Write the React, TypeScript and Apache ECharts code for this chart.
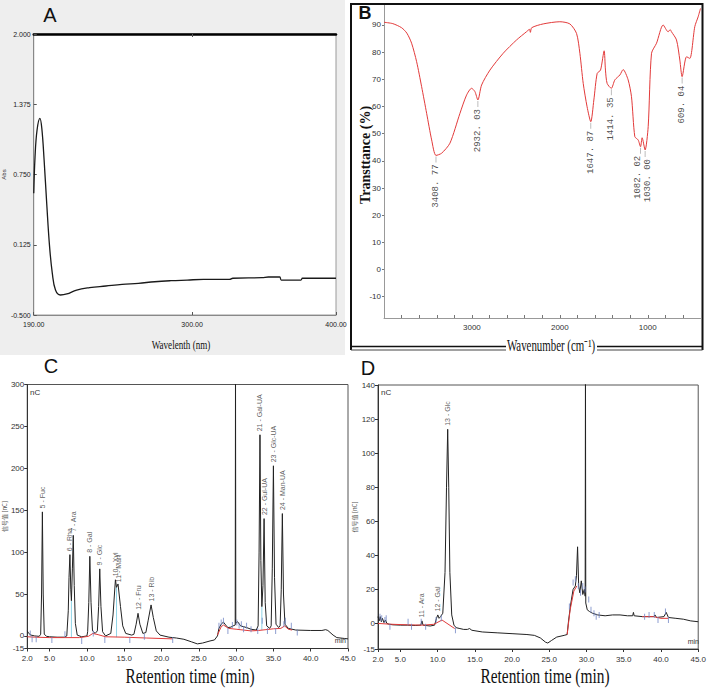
import { useEffect, useRef } from "react";
import * as echarts from "echarts";

// ---------- Panel A : UV spectrum ----------
const uvWavelength = [190, 190.9, 192.3, 194.3, 195.6, 197.2, 199, 201, 202.9, 205.1, 208.5, 213, 219.8, 228.8, 240.1, 251.4, 262.7, 274, 285.3, 296.6, 307.9, 326, 328.3, 348.6, 353, 360.9, 362, 375.6, 376.7, 400];
const uvAbs = [0.583, 0.908, 1.146, 1.25, 1.161, 0.879, 0.494, 0.108, -0.129, -0.278, -0.322, -0.313, -0.278, -0.257, -0.242, -0.227, -0.218, -0.204, -0.195, -0.189, -0.183, -0.183, -0.173, -0.168, -0.162, -0.162, -0.189, -0.189, -0.173, -0.173];
const uvYTicks = [-0.5, 0.125, 0.75, 1.375, 2.0];
const uvXTicks = [190, 300, 400];

// ---------- Panel B : FT-IR spectrum ----------
const irWavenumber = [4000, 3900, 3800, 3740, 3686, 3629, 3572, 3515, 3458, 3408.77, 3345, 3250, 3136, 3061, 3004, 2966, 2932.03, 2890, 2795, 2644, 2492, 2380, 2345, 2335, 2320, 2189, 2000, 1886, 1810, 1772, 1734, 1690, 1647.87, 1613, 1575, 1537, 1496, 1481, 1462, 1414.35, 1374, 1317, 1280, 1223, 1185, 1147, 1109, 1082.02, 1064, 1030, 995, 957, 900, 825, 768, 745, 730, 673, 635, 609.04, 559, 521, 465, 427, 400];
const irTransmittance = [91, 90.5, 89, 87, 83.3, 76.5, 67.3, 57.5, 47.7, 42, 42.8, 46.5, 57.5, 64.2, 66.7, 65.5, 62.4, 67.9, 73.4, 79.6, 84.5, 87.5, 88.4, 87.3, 89, 90.4, 91.2, 90.4, 86.9, 79.6, 68.5, 59.9, 54.4, 62.4, 72.2, 73.4, 80.5, 73.4, 68.5, 66.7, 69.8, 71.6, 73.6, 69.8, 63.6, 48.9, 47.7, 45.2, 48.5, 44, 52.6, 79.6, 83.3, 90, 87.5, 88.3, 87.5, 84.5, 77.1, 71, 78.3, 77.7, 89.4, 93, 96.1];
const irPeakWavenumber = [3408.77, 2932.03, 1647.87, 1414.35, 1082.02, 1030.0, 609.04];
const irPeakTransmittance = [42.0, 62.4, 54.4, 66.7, 45.2, 44.0, 71.0];
const irYTicks = [-10, 0, 10, 20, 30, 40, 50, 60, 70, 80, 90];
const irXTicks = [1000, 2000, 3000];
const irXMinorTicks = [600, 800, 1000, 1200, 1400, 1600, 1800, 2000, 2200, 2400, 2600, 2800, 3000, 3200, 3400, 3600, 3800];

// ---------- Panel C : standards chromatogram ----------
const cTime = [2.0, 2.2, 2.5, 3.0, 3.6, 3.8, 3.92, 4.03, 4.14, 4.28, 4.6, 5.0, 6.0, 7.0, 7.3, 7.5, 7.6, 7.72, 7.84, 7.92, 8.05, 8.17, 8.3, 8.45, 8.7, 9.3, 10.0, 10.1, 10.25, 10.39, 10.55, 10.75, 11.1, 11.4, 11.57, 11.72, 11.88, 12.1, 12.5, 13.2, 13.5, 13.82, 13.97, 14.17, 14.5, 14.8, 15.2, 16.0, 16.3, 16.6, 16.85, 17.1, 17.5, 17.9, 18.2, 18.6, 18.9, 19.3, 19.8, 21.0, 22.0, 23.0, 24.0, 24.8, 25.5, 26.5, 27.1, 27.5, 27.7, 28.0, 28.3, 28.6, 28.9, 29.3, 29.6, 29.88, 29.92, 29.96, 30.2, 30.6, 31.4, 32.0, 32.7, 32.95, 33.08, 33.2, 33.32, 33.45, 33.6, 33.75, 33.9, 34.1, 34.5, 34.7, 34.85, 35.0, 35.15, 35.35, 35.7, 35.9, 36.05, 36.2, 36.35, 36.55, 37.0, 38.0, 40.0, 41.5, 42.0, 42.3, 43.0, 43.5, 44.5, 45.0];
const cSignal = [6, 3, 1, 0, -0.5, 2, 50, 148, 50, 2, -0.5, -1, -1.5, -1.5, 0, 30, 70, 97, 55, 42, 80, 120, 60, 15, 1, -1, 0, 5, 40, 95, 40, 6, 3, 6, 35, 80, 35, 5, 0, 3, 25, 67, 58, 62, 35, 12, 3, 1, 2, 14, 27, 14, 3, 4, 18, 37, 22, 6, 1, -1.5, -2.5, -4, -7, -9.5, -8.5, -6, -4.8, 0, 9, 14, 16.5, 13, 10, 10.5, 12, 13, 320, 15, 17, 12, 10, 8, 7, 12, 100, 240, 90, 35, 60, 140, 40, 12, 9, 12, 80, 203, 70, 14, 10, 12, 55, 146, 50, 14, 9, 7, 6.5, 6.5, 7.5, 6.5, 1, -2, -3, -3.5];
const cBaseTime = [2.0, 3.0, 5.0, 7.0, 9.0, 10.2, 10.8, 11.5, 12.5, 15.0, 18.0, 21.5, 21.5, 27.5, 28.0, 28.3, 29.0, 30.0, 31.0, 32.0, 33.0, 34.0, 35.0, 36.0, 36.5, 37.0, 37.5];
const cBaseSignal = [-1, -1.5, -2, -2, -2, -0.5, 3, 1.5, -1, -1.5, -2.5, -3.5, null, 1, 11, 13, 9, 8, 7, 6, 6.5, 7.5, 8.5, 9, 12, 8, 7];
const cDropTime = [7.92, 13.97, 33.45];
const cDropBase = [-1.5, -1.5, 7];
const cDropTop = [42, 58, 35];
const cTickTime = [2.4, 2.65, 3.2, 5.3, 7.05, 9.3, 10.85, 12.4, 15.75, 17.7, 21.5, 27.7, 28.0, 28.3, 28.9, 29.5, 30.1, 30.4, 30.7, 31.0, 31.4, 32.0, 32.9, 33.5, 34.2, 35.3, 36.4, 36.6, 37.4, 38.2];
const cTickSignal = [3, -4, -4, -5, 2, -6, 3, -5, -5, -1, -5, 12, 16, 18, 6, 13, 16, 12, 14, 8, 12, 8, 6, 18, 6, 6, 14, 18, 12, 4];
const cPeakTime = [4.03, 7.72, 8.17, 10.39, 11.72, 13.82, 14.17, 16.85, 18.6, 33.2, 33.75, 35.0, 36.2];
const cPeakHeight = [148, 97, 120, 95, 80, 67, 60, 27, 37, 240, 140, 203, 146];
const cPeakName = ["5 - Fuc", "6 - Rha", "7 - Ara", "8 - Gal", "9 - Glc", "10 - Xyl", "11 - Man", "12 - Fru", "13 - Rib", "21 - Gal-UA", "22 - Gul-UA", "23 - Glc-UA", "24 - Man-UA"];
const cYTicks = [-15, 0, 50, 100, 150, 200, 250, 300];

// ---------- Panel D : sample chromatogram ----------
const dTime = [2.0, 2.15, 2.3, 2.45, 2.6, 2.8, 3.0, 3.2, 3.5, 4.0, 5.0, 6.0, 7.0, 7.75, 7.9, 8.05, 9.0, 9.6, 9.85, 10.03, 10.2, 10.4, 10.7, 11.0, 11.2, 11.36, 11.5, 11.65, 11.9, 12.2, 12.5, 13.0, 13.5, 14.0, 14.3, 14.6, 16.0, 18.0, 20.0, 22.0, 23.0, 23.8, 24.5, 24.8, 25.3, 26.0, 27.0, 27.4, 27.6, 27.9, 28.2, 28.5, 28.65, 28.8, 28.95, 29.1, 29.3, 29.5, 29.7, 29.82, 29.86, 29.9, 30.1, 30.4, 30.8, 31.5, 32.5, 33.5, 34.5, 35.5, 36.2, 36.3, 36.4, 37.5, 39.0, 39.2, 39.4, 40.4, 40.7, 41.0, 42.0, 43.0, 44.0, 45.0];
const dSignal = [4, 1.5, 4, 1, 3, 0.5, 2, 0, -0.5, -0.8, -1, -1, -1.2, -1, 1.5, -1, -1.5, -1, 3, 5, 3, 4, 6, 30, 80, 114, 80, 30, 5, -1, -2.5, -3, -3.5, -3.5, -3, -4, -5, -5.5, -6, -6.5, -7, -8.5, -11, -11.5, -10, -8, -7, -6.5, 2, 12, 20, 22, 28, 45, 22, 18, 25, 17, 20, 16, 150, 12, 8, 7, 6, 5, 4.5, 5, 5, 4.5, 4.5, 6.5, 4.5, 4, 4, 5, 3.5, 4, 6.5, 3.5, 3, 2.5, 1.5, 1];
const dBaseTime = [2.0, 4.0, 6.0, 8.0, 9.5, 10.6, 12.3, 12.3, 27.4, 27.8, 28.3, 28.7, 28.7, 37.5, 39.0, 40.0, 41.0];
const dBaseSignal = [0, -0.5, -0.8, -1, -0.5, 2, -3, null, -6.5, 8, 19, 22, null, 4, 4, 3, 3];
const dTickTime = [2.27, 2.5, 2.93, 3.1, 3.6, 6.04, 6.5, 7.8, 8.4, 9.8, 10.5, 12.4, 27.7, 28.2, 28.5, 28.9, 29.2, 29.5, 29.8, 30.3, 30.6, 31.0, 31.3, 31.7, 37.8, 38.4, 39.1, 39.6, 40.6, 41.0];
const dTickSignal = [4, 3, 2, 3, -2, 1, -2, 1, -2, 2, 3, -4, 10, 24, 26, 22, 18, 22, 20, 14, 8, 6, 4, 5, 4, 5, 5, 2, 7, 2];
const dPeakTime = [7.9, 10.03, 11.36];
const dPeakHeight = [1.5, 5, 114];
const dPeakName = ["11 - Ara", "12 - Gal", "13 - Glc"];
const dYTicks = [-15, 0, 20, 40, 60, 80, 100, 120, 140];

const rtXTicks = [2, 5, 10, 15, 20, 25, 30, 35, 40, 45];

const NARROW = "'Liberation Sans Narrow', 'Liberation Sans', Arial, sans-serif";
const SANS = "'Liberation Sans', Arial, sans-serif";
const SERIF = "'Liberation Serif', 'Times New Roman', serif";
const MONO = "'Liberation Mono', 'DejaVu Sans Mono', monospace";

const zip = (xs: number[], ys: (number | null)[]) => xs.map((x, i) => [x, ys[i] === null ? "-" : ys[i]]);

function drops(ts: number[], base: number[], top: number[]) {
  const out: any[] = [];
  ts.forEach((t, i) => {
    out.push([t, base[i]], [t, top[i]], [t, "-"]);
  });
  return out;
}

function txt(text: string, x: number, y: number, font: string, extra: any = {}) {
  return {
    type: "text",
    x,
    y,
    z: 20,
    ...extra,
    style: {
      text,
      x: 0,
      y: 0,
      font,
      fill: extra.fill || "#111",
      textAlign: extra.align || "center",
      align: extra.align || "center",
      textVerticalAlign: "middle",
      verticalAlign: "middle",
    },
  };
}

function line(x1: number, y1: number, x2: number, y2: number, color: string, w: number) {
  return { type: "line", z: 20, shape: { x1, y1, x2, y2 }, style: { stroke: color, lineWidth: w } };
}

export default function App() {
  const ref = useRef<HTMLDivElement>(null);
  useEffect(() => {
    if (!ref.current) return;
    const chart = echarts.init(ref.current, undefined, { renderer: "svg" });

    const chromX = (gi: number) => ({
      type: "value",
      gridIndex: gi,
      min: 2,
      max: 45,
      axisLine: { show: true, onZero: false, lineStyle: { color: "#333", width: 1 } },
      axisTick: { show: true, customValues: rtXTicks, length: 3, lineStyle: { color: "#333" } },
      axisLabel: { customValues: rtXTicks, formatter: (v: number) => v.toFixed(1), fontSize: 8, fontFamily: NARROW, color: "#333", margin: 6 },
      splitLine: { show: false },
    });

    const peakLabelSeries = (xi: number, ts: number[], hs: number[], names: string[]) => ({
      type: "scatter",
      xAxisIndex: xi,
      yAxisIndex: xi,
      silent: true,
      symbolSize: 1,
      itemStyle: { color: "rgba(0,0,0,0)" },
      data: ts.map((t, i) => [t, hs[i], names[i]]),
      label: {
        show: true,
        position: "top",
        distance: 3,
        rotate: 90,
        align: "left",
        verticalAlign: "middle",
        formatter: (p: any) => p.data[2],
        fontSize: 7,
        fontFamily: SANS,
        color: "#333",
      },
      z: 5,
    });

    const irLabelShift = [0, 0, 0, 0, -3, 3, 0];

    const option: any = {
      animation: false,
      grid: [
        { left: 26, top: 34, width: 310, height: 281, show: true, backgroundColor: "#fff", borderColor: "#9a9a9a", borderWidth: 1 },
        { left: 384, top: 5, width: 316.5, height: 313, show: false },
        { left: 25.5, top: 384.5, width: 322.5, height: 264, show: true, borderColor: "#555", borderWidth: 1 },
        { left: 378, top: 385, width: 322.5, height: 264, show: true, borderColor: "#555", borderWidth: 1 },
      ],
      xAxis: [
        {
          type: "value", gridIndex: 0, min: 190, max: 400,
          axisLine: { show: true, onZero: false, lineStyle: { color: "#888" } },
          axisTick: { show: true, inside: true, customValues: uvXTicks, length: 3, lineStyle: { color: "#555" } },
          axisLabel: { customValues: uvXTicks, formatter: (v: number) => v.toFixed(2), fontSize: 7, fontFamily: NARROW, color: "#222", margin: 6 },
          splitLine: { show: false },
        },
        {
          type: "value", gridIndex: 1, min: 400, max: 4000, inverse: true,
          axisLine: { show: true, onZero: false, lineStyle: { color: "#999" } },
          axisTick: { show: true, inside: true, customValues: irXMinorTicks, length: 3, lineStyle: { color: "#777" } },
          axisLabel: { customValues: irXTicks, formatter: (v: number) => String(v), fontSize: 8, fontFamily: NARROW, color: "#333", margin: 5 },
          splitLine: { show: false },
        },
        chromX(2),
        chromX(3),
        {
          type: "value", gridIndex: 0, min: 190, max: 400, position: "top",
          axisLine: { show: true, onZero: false, lineStyle: { color: "#000", width: 2.5 } },
          axisTick: { show: true, inside: true, customValues: [300], length: 3, lineStyle: { color: "#555" } },
          axisLabel: { show: false },
          splitLine: { show: false },
        },
      ],
      yAxis: [
        {
          type: "value", gridIndex: 0, min: -0.5, max: 2.0,
          axisLine: { show: true, onZero: false, lineStyle: { color: "#888" } },
          axisTick: { show: true, inside: true, customValues: uvYTicks, length: 3, lineStyle: { color: "#555" } },
          axisLabel: { customValues: uvYTicks, formatter: (v: number) => v.toFixed(3), fontSize: 7, fontFamily: NARROW, color: "#222", margin: 3 },
          splitLine: { show: false },
          name: "Abs", nameLocation: "middle", nameGap: 17, nameTextStyle: { fontSize: 6, color: "#333", fontFamily: SANS },
        },
        {
          type: "value", gridIndex: 1, min: -17.84, max: 97.36,
          axisLine: { show: true, onZero: false, lineStyle: { color: "#999" } },
          axisTick: { show: true, customValues: irYTicks, length: 2, lineStyle: { color: "#777" } },
          axisLabel: { customValues: irYTicks, fontSize: 8, fontFamily: NARROW, color: "#333", margin: 3 },
          splitLine: { show: false },
        },
        {
          type: "value", gridIndex: 2, min: -15, max: 300,
          axisLine: { show: true, onZero: false, lineStyle: { color: "#333" } },
          axisTick: { show: true, customValues: cYTicks, length: 3, lineStyle: { color: "#333" } },
          axisLabel: { customValues: cYTicks, fontSize: 8, fontFamily: NARROW, color: "#333", margin: 3 },
          splitLine: { show: false },
          name: "信号值 [nC]", nameLocation: "middle", nameGap: 17, nameTextStyle: { fontSize: 6, color: "#555", fontFamily: "'Noto Sans CJK SC', sans-serif" },
        },
        {
          type: "value", gridIndex: 3, min: -15, max: 140,
          axisLine: { show: true, onZero: false, lineStyle: { color: "#333" } },
          axisTick: { show: true, customValues: dYTicks, length: 3, lineStyle: { color: "#333" } },
          axisLabel: { customValues: dYTicks, fontSize: 8, fontFamily: NARROW, color: "#333", margin: 3 },
          splitLine: { show: false },
          name: "信号值 [nC]", nameLocation: "middle", nameGap: 17, nameTextStyle: { fontSize: 6, color: "#555", fontFamily: "'Noto Sans CJK SC', sans-serif" },
        },
      ],
      series: [
        {
          type: "line", xAxisIndex: 0, yAxisIndex: 0, data: zip(uvWavelength, uvAbs),
          showSymbol: false, smooth: 0.4, lineStyle: { color: "#1a1a1a", width: 1.3 }, silent: true,
        },
        {
          type: "line", xAxisIndex: 1, yAxisIndex: 1, data: zip(irWavenumber, irTransmittance),
          showSymbol: false, smooth: 0.25, lineStyle: { color: "#e23a3a", width: 1 }, silent: true,
        },
        {
          type: "scatter", xAxisIndex: 1, yAxisIndex: 1, silent: true,
          data: irPeakWavenumber.map((w, i) => ({
            value: [w, irPeakTransmittance[i]],
            label: { offset: [0, irLabelShift[i]] },
          })),
          symbol: "rect", symbolSize: [0.8, 6], symbolOffset: [0, 4], itemStyle: { color: "#999" },
          label: {
            show: true, position: "bottom", distance: 2, rotate: 90, align: "right", verticalAlign: "middle",
            formatter: (p: any) => p.value[0].toFixed(2).replace(".", ". "),
            fontSize: 9, fontFamily: MONO, color: "#222",
          },
        },
        // C
        {
          type: "line", xAxisIndex: 2, yAxisIndex: 2, data: drops(cDropTime, cDropBase, cDropTop),
          showSymbol: false, lineStyle: { color: "#8fd3e6", width: 1 }, silent: true, z: 1,
        },
        {
          type: "line", xAxisIndex: 2, yAxisIndex: 2, data: zip(cTime, cSignal),
          showSymbol: false, lineStyle: { color: "#222", width: 1 }, silent: true, z: 2,
        },
        {
          type: "line", xAxisIndex: 2, yAxisIndex: 2, data: zip(cBaseTime, cBaseSignal),
          showSymbol: false, lineStyle: { color: "#e03a3a", width: 1 }, silent: true, z: 3,
        },
        {
          type: "scatter", xAxisIndex: 2, yAxisIndex: 2, data: zip(cTickTime, cTickSignal), silent: true,
          symbol: "rect", symbolSize: [1, 6], itemStyle: { color: "#7286c4" }, z: 4,
        },
        peakLabelSeries(2, cPeakTime, cPeakHeight, cPeakName),
        // D
        {
          type: "line", xAxisIndex: 3, yAxisIndex: 3, data: zip(dTime, dSignal),
          showSymbol: false, lineStyle: { color: "#222", width: 1 }, silent: true, z: 2,
        },
        {
          type: "line", xAxisIndex: 3, yAxisIndex: 3, data: zip(dBaseTime, dBaseSignal),
          showSymbol: false, lineStyle: { color: "#e03a3a", width: 1 }, silent: true, z: 3,
        },
        {
          type: "scatter", xAxisIndex: 3, yAxisIndex: 3, data: zip(dTickTime, dTickSignal), silent: true,
          symbol: "rect", symbolSize: [1, 6], itemStyle: { color: "#7286c4" }, z: 4,
        },
        peakLabelSeries(3, dPeakTime, dPeakHeight, dPeakName),
      ],
      graphic: [
        { type: "rect", z: -10, shape: { x: 0, y: 0, width: 345, height: 355 }, style: { fill: "#eeeeee" } },
        txt("A", 50, 15, `20px ${SANS}`),
        txt("Wavelenth (nm)", 181, 344, `13px ${SERIF}`, { scaleX: 0.7 }),
        // B frame
        { type: "polyline", z: 20, shape: { points: [[351, 350], [351, 4], [702.5, 4], [702.5, 350]] }, style: { stroke: "#111", lineWidth: 2, fill: null } },
        line(351, 346.5, 506, 346.5, "#111", 1.5),
        line(351, 350, 506, 350, "#444", 1),
        line(597, 346.5, 702.5, 346.5, "#111", 1.5),
        line(597, 350, 702.5, 350, "#444", 1),
        txt("B", 365, 12.5, `bold 18px ${SANS}`),
        txt("Wavenumber (cm⁻¹)", 551, 346, `16px ${SERIF}`, { scaleX: 0.68 }),
        txt("Transttance (%)", 365, 155, `bold 14px ${SERIF}`, { rotation: Math.PI / 2 }),
        // C / D
        txt("C", 51, 366, `20px ${SANS}`),
        txt("D", 368, 368, `20px ${SANS}`),
        txt("nC", 30, 392, `8px ${SANS}`, { align: "left", fill: "#333" }),
        txt("nC", 381, 392, `8px ${SANS}`, { align: "left", fill: "#333" }),
        txt("min", 346, 640, `7px ${SANS}`, { align: "right", fill: "#333" }),
        txt("min", 699, 641, `7px ${SANS}`, { align: "right", fill: "#333" }),
        txt("Retention time (min)", 190, 675, `22px ${SERIF}`, { scaleX: 0.7 }),
        txt("Retention time (min)", 545, 675, `22px ${SERIF}`, { scaleX: 0.7 }),
      ],
    };
    chart.setOption(option);
    return () => chart.dispose();
  }, []);

  return (
    <div
      ref={ref}
      style={{ position: "absolute", left: 0, top: 0, width: 709, height: 696, background: "#fff" }}
    />
  );
}
